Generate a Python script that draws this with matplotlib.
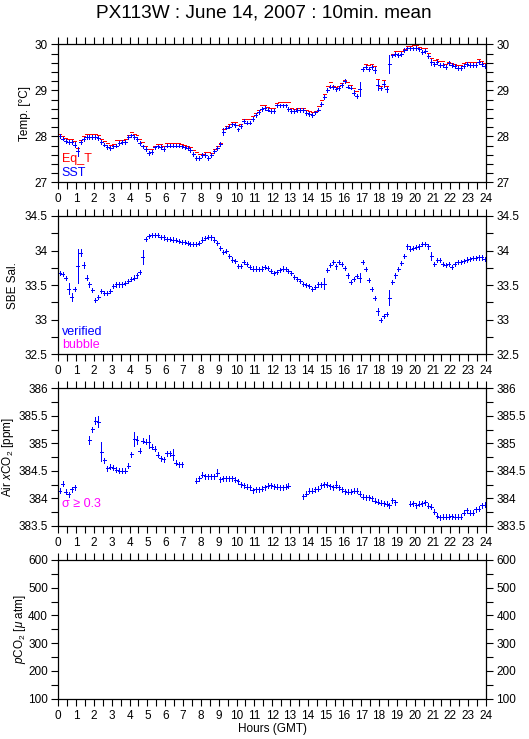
import numpy as np
import matplotlib
matplotlib.use('Agg')
import matplotlib.pyplot as plt
from matplotlib.ticker import MultipleLocator, FuncFormatter

plt.rcParams['font.family'] = ['Liberation Sans', 'DejaVu Sans']
plt.rcParams['mathtext.fontset'] = 'custom'
plt.rcParams['mathtext.rm'] = 'Liberation Sans'
plt.rcParams['mathtext.it'] = 'Liberation Sans:italic'

# ---------------- data (10-min means, 144 bins per day) ----------------
title = "PX113W : June 14, 2007 : 10min. mean"
hour_ticks = list(range(0, 25))

sst = [
    28.00, 27.95, 27.90, 27.88, 27.88, 27.82,
    27.67, 27.87, 27.94, 27.98, 27.98, 27.98,
    27.98, 27.97, 27.88, 27.82, 27.77, 27.75,
    27.78, 27.80, 27.86, 27.87, 27.88, 27.98,
    28.02, 27.98, 27.94, 27.85, 27.78, 27.73,
    27.64, 27.66, 27.76, 27.78, 27.77, 27.73,
    27.80, 27.80, 27.80, 27.80, 27.80, 27.78,
    27.76, 27.74, 27.70, 27.62, 27.53, 27.53,
    27.60, 27.60, 27.53, 27.60, 27.68, 27.74,
    27.83, 28.10, 28.19, 28.21, 28.26, 28.25,
    28.15, 28.22, 28.33, 28.30, 28.30, 28.38,
    28.47, 28.53, 28.60, 28.61, 28.58, 28.55,
    28.55, 28.67, 28.67, 28.67, 28.67, 28.59,
    28.55, 28.55, 28.57, 28.57, 28.57, 28.51,
    28.48, 28.46, 28.52, 28.58, 28.70, 28.85,
    29.00, 29.08, 29.07, 29.02, 29.05, 29.12,
    29.20, 29.08, 29.06, 28.95, 28.88, 29.03,
    29.46, 29.50, 29.46, 29.51, 29.44, 29.12,
    29.04, 29.14, 29.02, 29.57, 29.76, 29.79,
    29.77, 29.79, 29.87, 29.91, 29.91, 29.91,
    29.92, 29.89, 29.84, 29.86, 29.75, 29.61,
    29.57, 29.61, 29.55, 29.55, 29.50, 29.59,
    29.55, 29.53, 29.48, 29.48, 29.53, 29.57,
    29.55, 29.55, 29.55, 29.61, 29.57, 29.53,
]
sst_sd_default = 0.04
sst_sd_large = {5: 0.05, 6: 0.09, 55: 0.08, 99: 0.05, 101: 0.16, 106: 0.07,
                107: 0.11, 109: 0.06, 110: 0.05, 111: 0.2, 125: 0.07, 126: 0.05}

eq_t = [
    28.05, 28.00, 27.97, 27.95, 27.94, 27.90,
    27.75, 27.92, 28.00, 28.04, 28.04, 28.05,
    28.05, 28.02, 27.95, 27.90, 27.85, 27.82,
    27.84, 27.92, 27.92, 27.93, 27.95, 28.02,
    28.10, 28.06, 28.02, 27.95, 27.88, 27.80,
    27.72, 27.72, 27.80, 27.83, 27.83, 27.80,
    27.85, 27.86, 27.86, 27.86, 27.86, 27.83,
    27.82, 27.80, 27.76, 27.70, 27.66, 27.62,
    27.62, 27.65, 27.65, 27.63, 27.72, 27.80,
    27.86, 28.15, 28.23, 28.27, 28.32, 28.32,
    28.24, 28.27, 28.37, 28.37, 28.37, 28.45,
    28.50, 28.58, 28.67, 28.67, 28.63, 28.62,
    28.62, 28.72, 28.74, 28.75, 28.74, 28.74,
    28.62, 28.60, 28.62, 28.62, 28.62, 28.58,
    28.55, 28.53, 28.55, 28.65, 28.78, 28.93,
    29.10, 29.17, 29.10, 29.08, 29.10, 29.15,
    29.23, 29.17, 29.12, 29.05, 28.98, 29.03,
    29.47, 29.57, 29.55, 29.57, 29.53, 29.24,
    29.10, 29.22, 29.10, 29.57, 29.80, 29.85,
    29.85, 29.85, 29.90, 29.97, 29.97, 29.98,
    29.98, 29.95, 29.92, 29.93, 29.82, 29.70,
    29.65, 29.67, 29.63, 29.63, 29.58, 29.62,
    29.60, 29.57, 29.55, 29.55, 29.60, 29.62,
    29.62, 29.62, 29.62, 29.67, 29.63, 29.60,
]

sal = [
    33.68, 33.66, 33.60, 33.45, 33.33, 33.44,
    33.78, 33.97, 33.79, 33.61, 33.51, 33.43,
    33.29, 33.33, 33.41, 33.39, 33.39, 33.42,
    33.49, 33.51, 33.51, 33.51, 33.53, 33.56,
    33.59, 33.61, 33.64, 33.69, 33.91, 34.17,
    34.21, 34.23, 34.23, 34.22, 34.20, 34.19,
    34.17, 34.17, 34.16, 34.15, 34.14, 34.13,
    34.13, 34.11, 34.10, 34.10, 34.10, 34.11,
    34.16, 34.18, 34.20, 34.19, 34.16, 34.11,
    34.04, 33.98, 33.99, 33.92, 33.87, 33.85,
    33.78, 33.78, 33.83, 33.81, 33.76, 33.74,
    33.74, 33.73, 33.74, 33.76, 33.75, 33.71,
    33.68, 33.69, 33.72, 33.74, 33.73, 33.71,
    33.68, 33.62, 33.59, 33.56, 33.52, 33.50,
    33.49, 33.44, 33.47, 33.51, 33.51, 33.52,
    33.72, 33.79, 33.83, 33.77, 33.83, 33.80,
    33.75, 33.64, 33.55, 33.59, 33.63, 33.61,
    33.83, 33.73, 33.57, 33.45, 33.31, 33.12,
    33.00, 33.05, 33.08, 33.32, 33.55, 33.64,
    33.73, 33.82, 33.92, 34.06, 34.03, 34.04,
    34.05, 34.06, 34.09, 34.10, 34.06, 33.92,
    33.81, 33.86, 33.86, 33.81, 33.79, 33.80,
    33.76, 33.81, 33.83, 33.83, 33.85, 33.87,
    33.88, 33.89, 33.89, 33.90, 33.90, 33.88,
]
sal_sd_default = 0.03
sal_sd_large = {3: 0.08, 4: 0.06, 6: 0.25, 7: 0.05, 8: 0.04, 28: 0.1, 89: 0.08,
                101: 0.06, 107: 0.05, 111: 0.11, 113: 0.04, 125: 0.06}

nan = float('nan')
air_co2 = [
    384.14, 384.27, 384.12, 384.08, 384.17, 384.20,
    nan, nan, nan, nan, 385.06, 385.26,
    385.41, 385.39, 384.85, 384.69, 384.55, 384.58,
    384.56, 384.52, 384.50, 384.50, 384.50, 384.59,
    384.80, 385.08, 385.06, 384.87, 385.05, 385.03,
    385.03, 384.94, 384.90, 384.79, 384.73, 384.71,
    384.82, 384.82, 384.79, 384.65, 384.62, 384.62,
    nan, nan, nan, nan, 384.32, 384.37,
    384.43, 384.40, 384.40, 384.40, 384.40, 384.47,
    384.35, 384.37, 384.37, 384.37, 384.37, 384.34,
    384.31, 384.26, 384.24, 384.21, 384.20, 384.15,
    384.17, 384.17, 384.18, 384.20, 384.23, 384.24,
    384.22, 384.21, 384.20, 384.20, 384.21, 384.23,
    nan, nan, nan, nan, 384.04, 384.09,
    384.14, 384.14, 384.17, 384.18, 384.24, 384.26,
    384.25, 384.22, 384.20, 384.25, 384.20, 384.17,
    384.13, 384.12, 384.12, 384.14, 384.14, 384.09,
    384.03, 384.02, 384.02, 384.00, 383.96, 383.94,
    383.92, 383.91, 383.90, 383.88, 383.97, 383.93,
    nan, nan, nan, nan, 383.90, 383.91,
    383.88, 383.90, 383.91, 383.93, 383.87, 383.85,
    383.76, 383.69, 383.66, 383.67, 383.67, 383.67,
    383.68, 383.67, 383.67, 383.67, 383.74, 383.79,
    383.74, 383.74, 383.80, 383.81, 383.88, 383.89,
]
co2_sd_default = 0.045
co2_sd_large = {10: 0.07, 12: 0.06, 13: 0.1, 14: 0.17, 25: 0.12, 26: 0.08,
                30: 0.12, 38: 0.1, 53: 0.06, 93: 0.06}

bin_hours = 1.0 / 6.0


def sd_array(default, large, n=144):
    s = np.full(n, default)
    for k, v in large.items():
        s[k] = v
    return s


# ---------------- figure ----------------
W, H = 529, 739
fig = plt.figure(figsize=(W / 100, H / 100), dpi=100)

left_px, right_px = 58.3, 486.0
panels_px = [(44.3, 182.3), (216.0, 354.3), (388.3, 526.0), (560.0, 698.5)]

blue = (0, 0, 1)
red = (1, 0, 0)
mag = (1, 0, 1)
lw = 0.72

axes = []
for (t, b) in panels_px:
    ax = fig.add_axes([left_px / W, 1 - b / H, (right_px - left_px) / W, (b - t) / H])
    axes.append(ax)


def style(ax, ylim, major, minor):
    ax.set_xlim(0, 24)
    ax.set_ylim(*ylim)
    ax.set_xticks(hour_ticks)
    ax.xaxis.set_minor_locator(MultipleLocator(0.5))
    ax.yaxis.set_major_locator(MultipleLocator(major))
    ax.yaxis.set_minor_locator(MultipleLocator(minor))
    ax.yaxis.set_major_formatter(FuncFormatter(lambda v, p: '%g' % round(v, 3)))
    ax.xaxis.set_major_formatter(FuncFormatter(lambda v, p: '%d' % round(v)))
    ax.tick_params(which='both', direction='out', length=5, width=0.8,
                   top=True, right=True, labelright=True, labelsize=8.5,
                   colors='black')
    ax.tick_params(axis='x', pad=3)
    ax.tick_params(axis='y', pad=2.5)
    for s in ax.spines.values():
        s.set_linewidth(0.9)


def crisp(container):
    for coll in container.lines[2]:
        coll.set_antialiased(False)


x = (np.arange(144) + 0.5) * bin_hours
hw = bin_hours / 2

# Panel 1: temperatures
ax = axes[0]
crisp(ax.errorbar(x, eq_t, xerr=hw, fmt='none', ecolor=red, elinewidth=lw, capsize=0))
crisp(ax.errorbar(x, sst, xerr=hw, yerr=sd_array(sst_sd_default, sst_sd_large),
                  fmt='none', ecolor=blue, elinewidth=lw, capsize=0))
style(ax, (27, 30), 1, 0.2)
ax.text(0.008, 0.17, 'Eq_T', color=red, fontsize=9, transform=ax.transAxes, va='center')
ax.text(0.008, 0.068, 'SST', color=blue, fontsize=9, transform=ax.transAxes, va='center')

# Panel 2: salinity
ax = axes[1]
crisp(ax.errorbar(x, sal, xerr=hw, yerr=sd_array(sal_sd_default, sal_sd_large),
                  fmt='none', ecolor=blue, elinewidth=lw, capsize=0))
style(ax, (32.5, 34.5), 0.5, 0.25)
ax.text(0.008, 0.161, 'verified', color=blue, fontsize=9, transform=ax.transAxes, va='center')
ax.text(0.008, 0.067, 'bubble', color=mag, fontsize=9, transform=ax.transAxes, va='center')

# Panel 3: air xCO2
ax = axes[2]
crisp(ax.errorbar(x, air_co2, xerr=hw, yerr=sd_array(co2_sd_default, co2_sd_large),
                  fmt='none', ecolor=blue, elinewidth=lw, capsize=0))
style(ax, (383.5, 386), 0.5, 0.25)
ax.text(0.008, 0.16, 'σ ≥ 0.3', color=mag, fontsize=9, transform=ax.transAxes, va='center')

# Panel 4: pCO2 (no data)
ax = axes[3]
style(ax, (100, 600), 100, 50)

# y labels
ylabels = ['Temp. [°C]', 'SBE Sal.', r'Air $x$CO$_2$ [ppm]', r'$p$CO$_2$ [$\mu$ atm]']
label_x = [25, 13.5, 8.5, 19.5]
for (t, b), lab, lx in zip(panels_px, ylabels, label_x):
    fig.text(lx / W, 1 - (t + b) / 2 / H, lab, rotation=90, ha='center', va='center',
             fontsize=8.5)

fig.text(272 / W, 1 - 729 / H, 'Hours (GMT)', ha='center', va='center', fontsize=8.5)
fig.text(264 / W, 1 - 13 / H, title, ha='center', va='center', fontsize=13.7)

fig.savefig('out.png', dpi=100)
